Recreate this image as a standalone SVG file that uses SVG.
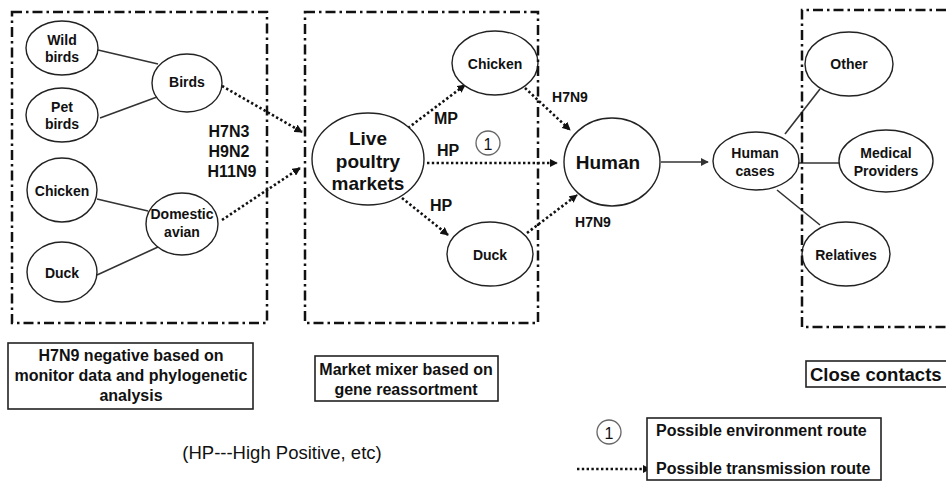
<svg xmlns="http://www.w3.org/2000/svg" width="946" height="481" viewBox="0 0 946 481">
<style>
.bg{fill:#fff}
.region{fill:none;stroke:#111;stroke-width:2.5;stroke-dasharray:10 4 2.5 4}
.node ellipse{fill:#fff;stroke:#222;stroke-width:1.4}
.t{font-family:"Liberation Sans",Arial,sans-serif;font-weight:bold;fill:#111;text-anchor:middle;dominant-baseline:central}
.s14{font-size:14px}
.s16{font-size:16px}
.s19{font-size:19px}
.link{stroke:#333;stroke-width:1.6;fill:none}
.dot{stroke:#111;stroke-width:2.6;fill:none;stroke-dasharray:2.4 2.4}
.box{fill:#fff;stroke:#222;stroke-width:1.6}
.num{fill:#fff;stroke:#666;stroke-width:1.3}
</style>
<defs>
<marker id="ah" viewBox="0 0 10 10" refX="9" refY="5" markerWidth="3.2" markerHeight="3.2" orient="auto" markerUnits="strokeWidth">
<path d="M0,0 L10,5 L0,10 z" fill="#111"/>
</marker>
<marker id="ah2" viewBox="0 0 10 10" refX="9" refY="5" markerWidth="5" markerHeight="5" orient="auto" markerUnits="strokeWidth">
<path d="M0,0 L10,5 L0,10 z" fill="#333"/>
</marker>
</defs>
<rect class="bg" x="0" y="0" width="946" height="481"/>

<g id="connectors">
<line class="link" x1="98" y1="50" x2="158" y2="64"/>
<line class="link" x1="100" y1="118" x2="157" y2="97"/>
<line class="link" x1="97" y1="199" x2="148" y2="211"/>
<line class="link" x1="97" y1="275" x2="158" y2="247"/>
<line class="dot" x1="222" y1="86" x2="302" y2="132" marker-end="url(#ah)"/>
<line class="dot" x1="222" y1="220" x2="300" y2="168" marker-end="url(#ah)"/>
<line class="dot" x1="408" y1="128" x2="465" y2="85" marker-end="url(#ah)"/>
<line class="dot" x1="427" y1="163" x2="557" y2="163" marker-end="url(#ah)"/>
<line class="dot" x1="402" y1="198" x2="448" y2="235" marker-end="url(#ah)"/>
<line class="dot" x1="525" y1="88" x2="570" y2="130" marker-end="url(#ah)"/>
<line class="dot" x1="527" y1="233" x2="577" y2="195" marker-end="url(#ah)"/>
<line class="link" x1="661" y1="162" x2="708" y2="162" marker-end="url(#ah2)"/>
<line class="link" x1="785" y1="134" x2="820" y2="89"/>
<line class="link" x1="799" y1="163" x2="839" y2="163"/>
<line class="link" x1="777" y1="190" x2="820" y2="225"/>
<line class="dot" x1="577" y1="469" x2="650" y2="469" marker-end="url(#ah)"/>
</g>

<g id="n-wild-birds" class="node"><ellipse cx="62" cy="48" rx="36" ry="27"/><text class="t s14" x="62" y="40">Wild</text><text class="t s14" x="62" y="57">birds</text></g>
<g id="n-pet-birds" class="node"><ellipse cx="62" cy="115" rx="36" ry="27"/><text class="t s14" x="62" y="107">Pet</text><text class="t s14" x="62" y="124">birds</text></g>
<g id="n-chicken-1" class="node"><ellipse cx="62" cy="190" rx="35" ry="32"/><text class="t s14" x="62" y="191">Chicken</text></g>
<g id="n-duck-1" class="node"><ellipse cx="62" cy="272" rx="35" ry="30"/><text class="t s14" x="62" y="273">Duck</text></g>
<g id="n-birds" class="node"><ellipse cx="187" cy="83" rx="35" ry="29"/><text class="t s14" x="187" y="82">Birds</text></g>
<g id="n-domestic" class="node"><ellipse cx="182" cy="224" rx="36" ry="31"/><text class="t s14" x="182" y="214">Domestic</text><text class="t s14" x="182" y="232">avian</text></g>

<g id="subtypes">
<text class="t s16" x="229" y="131">H7N3</text>
<text class="t s16" x="229" y="151">H9N2</text>
<text class="t s16" x="232" y="171">H11N9</text>
</g>

<g id="n-live-poultry" class="node"><ellipse cx="368" cy="159" rx="56" ry="46"/><text class="t s19" x="368" y="138">Live</text><text class="t s19" x="368" y="161">poultry</text><text class="t s19" x="368" y="183">markets</text></g>
<g id="n-chicken-2" class="node"><ellipse cx="495" cy="63" rx="43" ry="32"/><text class="t s14" x="495" y="64">Chicken</text></g>
<g id="n-duck-2" class="node"><ellipse cx="490" cy="254" rx="43" ry="32"/><text class="t s14" x="490" y="255">Duck</text></g>
<g id="n-human" class="node"><ellipse cx="612" cy="162" rx="48" ry="44"/><text class="t s19" x="608" y="162">Human</text></g>
<g id="n-human-cases" class="node"><ellipse cx="756" cy="161" rx="43" ry="29"/><text class="t s14" x="755" y="153">Human</text><text class="t s14" x="755" y="171">cases</text></g>
<g id="n-other" class="node"><ellipse cx="849" cy="64" rx="44" ry="32"/><text class="t s14" x="849" y="64">Other</text></g>
<g id="n-medical" class="node"><ellipse cx="886" cy="161" rx="47" ry="31"/><text class="t s14" x="886" y="153">Medical</text><text class="t s14" x="886" y="171">Providers</text></g>
<g id="n-relatives" class="node"><ellipse cx="846" cy="254" rx="44" ry="32"/><text class="t s14" x="846" y="255">Relatives</text></g>

<g id="edge-labels">
<text class="t s16" x="446" y="118">MP</text>
<text class="t s16" x="448" y="150">HP</text>
<text class="t s16" x="441" y="205">HP</text>
<text class="t s14" x="570" y="97">H7N9</text>
<text class="t s14" x="593" y="222">H7N9</text>
<g id="env-1"><circle class="num" cx="488" cy="143" r="12"/><text class="t s16" x="488" y="144" style="font-weight:normal">1</text></g>
</g>

<g id="regions">
<rect class="region" x="12" y="12" width="255" height="311"/>
<rect class="region" x="305" y="12" width="233" height="311"/>
<path class="region" d="M946,10 L802,10 L802,327 L946,327"/>
</g>

<g id="caption-1"><rect class="box" x="8" y="343" width="245" height="66"/>
<text class="t s16" x="131" y="355">H7N9 negative based on</text>
<text class="t s16" x="131" y="375">monitor data and phylogenetic</text>
<text class="t s16" x="131" y="395">analysis</text></g>
<g id="caption-2"><rect class="box" x="315" y="356" width="183" height="45"/>
<text class="t s16" x="406" y="369">Market mixer based on</text>
<text class="t s16" x="406" y="389">gene reassortment</text></g>
<g id="caption-3"><rect class="box" x="806" y="361" width="145" height="26"/>
<text class="t" x="810" y="374" style="font-size:18.5px;text-anchor:start">Close contacts</text></g>

<text x="282" y="452" style="font-family:'Liberation Sans',Arial,sans-serif;font-size:18.5px;fill:#111;text-anchor:middle;dominant-baseline:central">(HP---High Positive, etc)</text>

<g id="legend">
<circle class="num" cx="609" cy="432" r="12"/><text class="t s16" x="609" y="433" style="font-weight:normal">1</text>
<rect class="box" x="647" y="418" width="234" height="62"/>
<text class="t s16" x="656" y="430" style="text-anchor:start">Possible environment route</text>
<text class="t s16" x="656" y="468" style="text-anchor:start">Possible transmission route</text>
</g>
</svg>
